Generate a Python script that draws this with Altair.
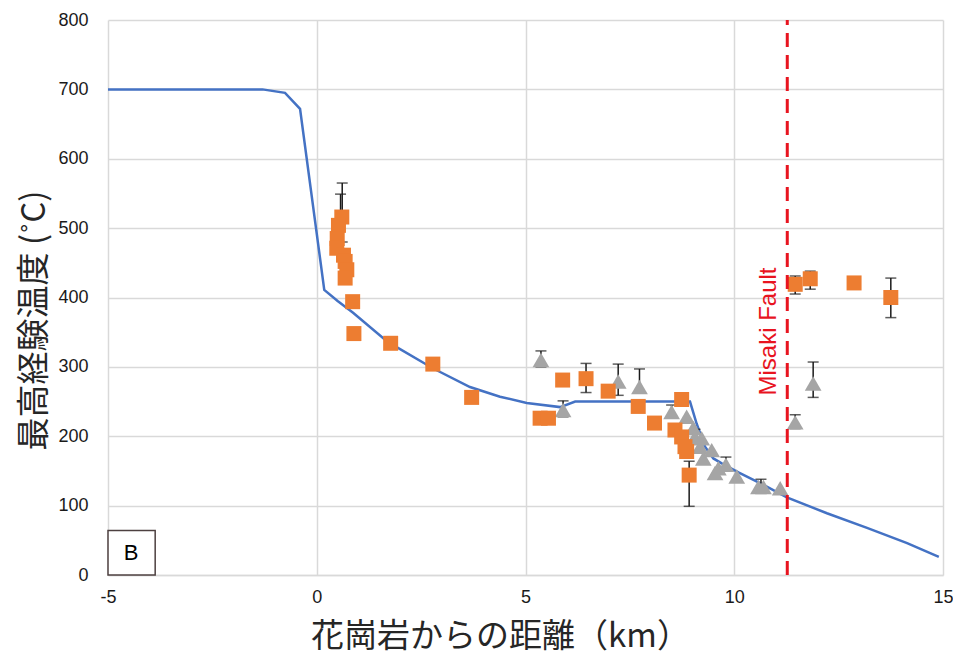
import altair as alt
import pandas as pd

# Model curve (blue line)
line_x = [-5, -1.3, -0.76, -0.4, 0.18, 0.5, 0.87, 1.7, 2.78, 3.67, 4.39, 5.03, 5.83, 6.19,
          8.94, 9.1, 9.3, 9.5, 9.7, 10.1, 10.7, 11.26, 12.22, 13.18, 14.14, 14.9]
line_y = [700, 700, 695, 672, 411, 395, 378, 336, 298, 271, 257, 248, 242, 250,
          250, 218, 185, 168, 161, 148, 130, 112, 89, 68, 46, 26]

# Orange squares
sq_x = [0.60, 0.52, 0.49, 0.48, 0.64, 0.68, 0.72, 0.68, 0.86, 0.89, 1.77, 2.78, 3.71,
        5.35, 5.55, 5.89, 6.45, 6.98, 7.70, 8.09, 8.74, 8.58, 8.74, 8.82, 8.86, 8.92,
        11.46, 11.82, 12.87, 13.75]
sq_y = [516, 504, 485, 471, 461, 452, 440, 428, 394, 348, 334, 304, 256,
        226, 226, 281, 283, 265, 243, 219, 253, 209, 199, 185, 178, 144,
        419, 427, 421, 400]

# Grey triangles
tri_x = [5.37, 5.9, 7.22, 7.73, 8.5, 8.86, 9.02, 9.06, 9.18, 9.22, 9.26, 9.46, 9.54, 9.62,
         9.8, 10.06, 10.58, 10.7, 11.1, 11.46, 11.89]
tri_y = [310, 238, 279, 271, 235, 228, 212, 199, 185, 197, 168, 180, 147, 154,
         159, 142, 127, 127, 125, 220, 276]

# Error bars
err_x = [0.61, 0.57, 3.71, 6.45, 8.92, 11.46, 11.82, 13.75, 5.37, 5.9, 7.22, 7.73, 8.5,
         9.06, 9.18, 9.8, 10.64, 11.46, 11.89]
err_lo = [480, 470, 249, 263, 99, 405, 412, 371, 300, 228, 259, 262, 226,
          190, 177, 150, 120, 211, 256]
err_hi = [565, 549, 263, 305, 164, 431, 438, 428, 323, 251, 304, 297, 245,
          210, 194, 170, 138, 231, 307]

# Annotations
fault_x = [11.27]
fault_label = ["Misaki Fault"]
fault_label_y = [351]
panel_label = ["B"]
panel_box_x = [-5]
panel_box_x2 = [-3.87]
panel_box_y = [0]
panel_box_y2 = [64]

line_df = pd.DataFrame({"x": line_x, "y": line_y})
sq_df = pd.DataFrame({"x": sq_x, "y": sq_y})
tri_df = pd.DataFrame({"x": tri_x, "y": tri_y})
err_df = pd.DataFrame({"x": err_x, "lo": err_lo, "hi": err_hi})
fault_df = pd.DataFrame({"x": fault_x, "y0": [0], "y1": [800], "ly": fault_label_y, "label": fault_label})
box_df = pd.DataFrame({"x": panel_box_x, "x2": panel_box_x2, "y": panel_box_y, "y2": panel_box_y2,
                       "label": panel_label})

xs = alt.Scale(domain=[-5, 15], nice=False)
ys = alt.Scale(domain=[0, 800], nice=False)

X = alt.X("x:Q", scale=xs, title="花崗岩からの距離（km）",
          axis=alt.Axis(values=[-5, 0, 5, 10, 15], labelExpr="datum.value + ''", labelFlush=False,
                        titleX=392, titleY=61, titleBaseline="middle", titleAlign="center"))
Y = alt.Y("y:Q", scale=ys, title="最高経験温度 (˚C)",
          axis=alt.Axis(values=list(range(0, 801, 100)), titleX=-74, titleY=300,
                        titleBaseline="middle", titleAlign="center", titleAngle=270))

line = alt.Chart(line_df).mark_line(color="#4472C4", strokeWidth=2.5).encode(x=X, y=Y)

fault = alt.Chart(fault_df).mark_rule(color="#E8141F", strokeWidth=3, strokeDash=[14, 8]).encode(
    x=alt.X("x:Q", scale=xs), y=alt.Y("y0:Q", scale=ys), y2="y1:Q")

fault_text = alt.Chart(fault_df).mark_text(
    color="#E8141F", fontSize=24, font="Liberation Sans", angle=270, align="center",
    baseline="alphabetic", dy=-11).encode(
    x=alt.X("x:Q", scale=xs), y=alt.Y("ly:Q", scale=ys), text="label:N")

err_rule = alt.Chart(err_df).mark_rule(color="#1a1a1a", strokeWidth=1.5).encode(
    x=alt.X("x:Q", scale=xs), y=alt.Y("lo:Q", scale=ys), y2="hi:Q")
err_top = alt.Chart(err_df).mark_tick(color="#1a1a1a", orient="horizontal", size=11, thickness=1.5).encode(
    x=alt.X("x:Q", scale=xs), y=alt.Y("hi:Q", scale=ys))
err_bot = alt.Chart(err_df).mark_tick(color="#1a1a1a", orient="horizontal", size=11, thickness=1.5).encode(
    x=alt.X("x:Q", scale=xs), y=alt.Y("lo:Q", scale=ys))

tri = alt.Chart(tri_df).mark_point(shape="triangle-up", filled=True, color="#A5A5A5", opacity=1,
                                   size=280).encode(x=alt.X("x:Q", scale=xs), y=alt.Y("y:Q", scale=ys))
sq = alt.Chart(sq_df).mark_square(color="#ED7D31", opacity=1, size=225).encode(
    x=alt.X("x:Q", scale=xs), y=alt.Y("y:Q", scale=ys))

box = alt.Chart(box_df).mark_rect(fill="white", stroke="#4d4040", strokeWidth=1.5).encode(
    x=alt.X("x:Q", scale=xs), x2="x2:Q", y=alt.Y("y:Q", scale=ys), y2="y2:Q")
box_text = alt.Chart(box_df).mark_text(fontSize=22, font="Liberation Sans", color="black",
                                       dx=23, dy=-22).encode(
    x=alt.X("x:Q", scale=xs), y=alt.Y("y:Q", scale=ys), text="label:N")

chart = alt.layer(line, err_rule, err_top, err_bot, tri, sq, fault, fault_text, box, box_text).properties(
    width=835, height=555,
    autosize=alt.AutoSizeParams(type="none"),
    padding={"left": 100, "top": 12, "right": 10, "bottom": 86},
).configure_view(stroke="transparent").configure_axis(
    grid=True, gridColor="#d9d9d9", gridWidth=1.5, ticks=False, domain=False,
    labelFont="Liberation Sans", labelFontSize=18, labelColor="#1a1a1a",
    titleFont="Noto Sans CJK JP", titleFontSize=33, titleFontWeight="normal", titleColor="#262626",
).configure_axisX(labelPadding=13, domain=True, domainColor="#d9d9d9", domainWidth=1.5
).configure_axisY(labelPadding=20, labelFlush=False)

chart.save("out.html", embed_options={"renderer": "svg", "actions": False})
